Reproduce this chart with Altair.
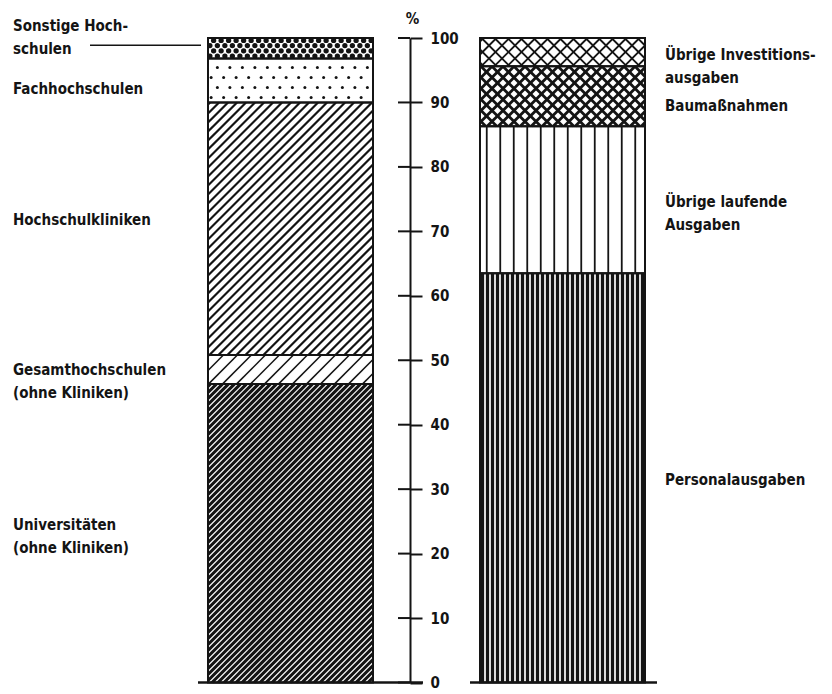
import altair as alt
import numpy as np
import pandas as pd

# ---------------- data ----------------
left_names = ["Universitäten (ohne Kliniken)", "Gesamthochschulen (ohne Kliniken)",
              "Hochschulkliniken", "Fachhochschulen", "Sonstige Hochschulen"]
left_labels = ["Universitäten\n(ohne Kliniken)", "Gesamthochschulen\n(ohne Kliniken)",
               "Hochschulkliniken", "Fachhochschulen", "Sonstige Hoch-\nschulen"]
left_values = [46.3, 4.5, 39.2, 6.8, 3.2]

right_names = ["Personalausgaben", "Übrige laufende Ausgaben", "Baumaßnahmen",
               "Übrige Investitionsausgaben"]
right_labels = ["Personalausgaben", "Übrige laufende\nAusgaben", "Baumaßnahmen",
                "Übrige Investitions-\nausgaben"]
right_values = [63.5, 22.8, 9.3, 4.4]

tick_values = [0, 10, 20, 30, 40, 50, 60, 70, 80, 90, 100]
axis_title = "%"

# ---------------- layout & style ----------------
W, H = 816, 685
Y0_PX, Y100_PX = 674.5, 30.0
K = (Y0_PX - Y100_PX) / 100.0          # px per percent
LEFT_BAR = (200.0, 365.0)
RIGHT_BAR = (472.0, 637.0)
AXIS_X = 402.0
LEFT_TEXT_X = 5.0
RIGHT_TEXT_X = 657.0
FONT = "DejaVu Sans Condensed"
INK = "#141414"
FS = 15

left_patterns = [("diag", 6.0, 3.1), ("diag", 14.0, 1.5), ("diag", 9.0, 2.2),
                 ("dots", (12.5, 10.0), 9), ("dots", (7.5, 5.2), 28)]
right_patterns = [("vert", 5.0, 3.3), ("vert", 13.5, 1.8), ("cross", 11.0, 2.8),
                  ("cross", 13.0, 1.8)]
left_dy = [-8, 0, -9, 8, -22]      # label nudges in px (down positive)
right_dy = [2, 2, 10, 3]


def build(names, labels, values, bar, patterns, dys, tx, side):
    rows, cum = [], 0.0
    for n, l, v, p, d in zip(names, labels, values, patterns, dys):
        rows.append(dict(name=n, label=l, y0=cum, y1=cum + v, x0=bar[0], x1=bar[1],
                         mid=cum + v / 2, ly=cum + v / 2 - d / K, tx=tx,
                         pattern=p, side=side))
        cum += v
    return rows


segs = build(left_names, left_labels, left_values, LEFT_BAR, left_patterns, left_dy,
             LEFT_TEXT_X, "L") + \
       build(right_names, right_labels, right_values, RIGHT_BAR, right_patterns, right_dy,
             RIGHT_TEXT_X, "R")

lines, dots = [], []
for s in segs:
    X0, X1 = s["x0"], s["x1"]
    U0, U1 = s["y0"] * K, s["y1"] * K
    kind, p, w = s["pattern"]
    if kind in ("diag", "cross"):
        c = np.floor((X0 - U1) / p) * p
        while c <= X1 - U0:
            lo, hi = max(U0, X0 - c), min(U1, X1 - c)
            if hi - lo > 0.5:
                lines.append(dict(x=c + lo, y=lo / K, x2=c + hi, y2=hi / K, w=w))
            c += p
    if kind == "cross":
        c = np.floor((X0 + U0) / p) * p
        while c <= X1 + U1:
            lo, hi = max(U0, c - X1), min(U1, c - X0)
            if hi - lo > 0.5:
                lines.append(dict(x=c - lo, y=lo / K, x2=c - hi, y2=hi / K, w=w))
            c += p
    if kind == "vert":
        x = X0 + p / 2
        while x < X1 - 0.5:
            lines.append(dict(x=x, y=s["y0"], x2=x, y2=s["y1"], w=w))
            x += p
    if kind == "dots":
        dx, dyr = p
        u, r = U0 + dyr / 2, 0
        while u < U1 - 1:
            x = X0 + dx / 2 + (dx / 2 if r % 2 else 0) - dx / 4
            while x < X1 - 1.5:
                dots.append(dict(x=x, y=u / K, size=w))
                x += dx
            u += dyr
            r += 1

seg_df = pd.DataFrame([{k: v for k, v in s.items() if k != "pattern"} for s in segs])
lines_df = pd.DataFrame(lines)
dots_df = pd.DataFrame(dots)
ticks_df = pd.DataFrame({"t": tick_values})
base_df = pd.DataFrame({"x": [LEFT_BAR[0] - 10, RIGHT_BAR[0] - 10],
                        "x2": [AXIS_X + 13, RIGHT_BAR[1] + 12], "y": [0, 0]})
sonst = seg_df[seg_df["name"] == "Sonstige Hochschulen"].iloc[0]
leader_df = pd.DataFrame({"x": [82.0], "x2": [193.0], "y": [sonst["mid"] + 3 / K]})

xs = alt.Scale(domain=[0, W], range=[0, W], nice=False, zero=False)
ys = alt.Scale(domain=[0, 100], range=[Y0_PX, Y100_PX], nice=False, zero=False)

fill = alt.Chart(seg_df).mark_rect(fill="white", stroke=None).encode(
    x=alt.X("x0:Q", scale=xs, axis=None), x2="x1:Q",
    y=alt.Y("y0:Q", scale=ys, axis=alt.Axis(
        orient="right", offset=-(W - AXIS_X), values=tick_values, title=axis_title,
        titleAngle=0, titleX=2, titleY=10, titleAlign="center", titleBaseline="middle",
        titleFont=FONT, titleFontSize=FS, titleFontWeight="bold", titleColor=INK,
        tickSize=12, tickWidth=2, tickColor=INK, domain=True, domainColor=INK,
        domainWidth=2, labelFont=FONT, labelFontSize=FS, labelFontWeight="bold",
        labelColor=INK, labelPadding=8, labelFlush=False, labelOverlap=False,
        grid=False, format="d")),
    y2="y1:Q")

hatch = alt.Chart(lines_df).mark_rule(color=INK, strokeCap="butt").encode(
    x=alt.X("x:Q", scale=xs, axis=None), x2="x2:Q",
    y=alt.Y("y:Q", scale=ys, axis=None), y2="y2:Q",
    strokeWidth=alt.StrokeWidth("w:Q", scale=None))

dotl = alt.Chart(dots_df).mark_circle(color=INK, opacity=1).encode(
    x=alt.X("x:Q", scale=xs, axis=None), y=alt.Y("y:Q", scale=ys, axis=None),
    size=alt.Size("size:Q", scale=None))

outline = alt.Chart(seg_df).mark_rect(fillOpacity=0, stroke=INK, strokeWidth=2).encode(
    x=alt.X("x0:Q", scale=xs, axis=None), x2="x1:Q",
    y=alt.Y("y0:Q", scale=ys, axis=None), y2="y1:Q")

left_ticks = alt.Chart(ticks_df).mark_rule(color=INK, strokeWidth=2).encode(
    x=alt.value(AXIS_X - 12), x2=alt.value(AXIS_X),
    y=alt.Y("t:Q", scale=ys, axis=None))

baseline = alt.Chart(base_df).mark_rule(color=INK, strokeWidth=2.5).encode(
    x=alt.X("x:Q", scale=xs, axis=None), x2="x2:Q",
    y=alt.Y("y:Q", scale=ys, axis=None))

leader = alt.Chart(leader_df).mark_rule(color=INK, strokeWidth=1.5).encode(
    x=alt.X("x:Q", scale=xs, axis=None), x2="x2:Q",
    y=alt.Y("y:Q", scale=ys, axis=None))

labels = alt.Chart(seg_df).mark_text(
    align="left", baseline="middle", lineBreak="\n", font=FONT, fontSize=FS,
    fontWeight="bold", lineHeight=23, color=INK).encode(
    x=alt.X("tx:Q", scale=xs, axis=None), y=alt.Y("ly:Q", scale=ys, axis=None),
    text="label:N")

chart = alt.layer(fill, hatch, dotl, outline, left_ticks, baseline, leader, labels).resolve_axis(
    x="independent", y="independent"
).properties(
    width=W, height=H, padding=0, autosize="none", background="white"
).configure_view(stroke=None)

chart.save("out.html", embed_options={"renderer": "svg", "actions": False})
